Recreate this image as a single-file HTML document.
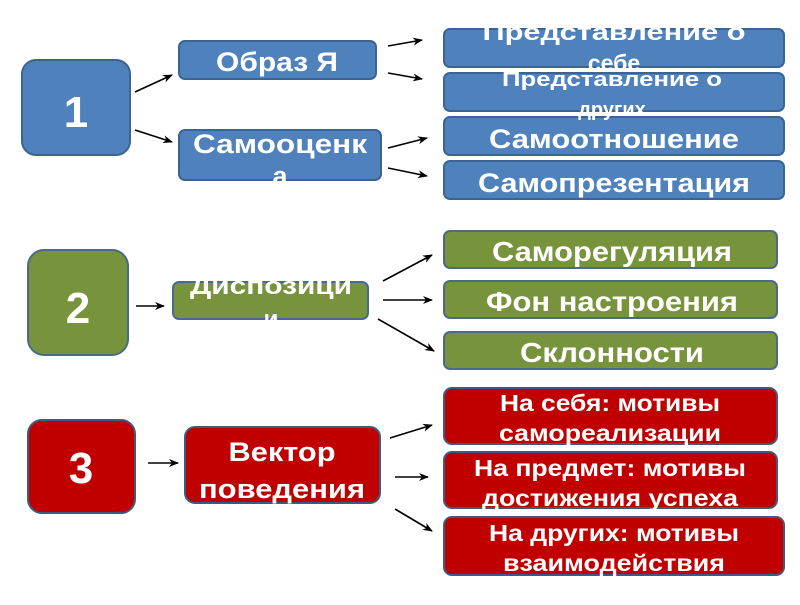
<!DOCTYPE html>
<html><head><meta charset="utf-8"><style>
html,body{margin:0;padding:0;background:#fff;}
svg text{font-family:"Liberation Sans","DejaVu Sans",sans-serif;font-weight:bold;fill:#fff;text-anchor:middle;}
</style></head><body>
<svg width="800" height="600" viewBox="0 0 800 600" xmlns="http://www.w3.org/2000/svg">
<defs>
<marker id="a" markerWidth="10" markerHeight="8" refX="9" refY="4" orient="auto" markerUnits="userSpaceOnUse"><path d="M0,0 L10,4 L0,8 L3,4 z" fill="#000"/></marker>
</defs>
<g stroke="#000" stroke-width="1.6" marker-end="url(#a)">
<line x1="135" y1="92" x2="172" y2="75"/>
<line x1="135" y1="130" x2="172" y2="142"/>
<line x1="388" y1="46" x2="422" y2="40"/>
<line x1="388" y1="73" x2="422" y2="79"/>
<line x1="388" y1="148" x2="427" y2="138"/>
<line x1="388" y1="168" x2="427" y2="176"/>
<line x1="136" y1="306" x2="164" y2="306"/>
<line x1="383" y1="281" x2="432" y2="255"/>
<line x1="383" y1="300" x2="432" y2="300"/>
<line x1="378" y1="319" x2="434" y2="351"/>
<line x1="148" y1="463" x2="178" y2="463"/>
<line x1="390" y1="438" x2="432" y2="425"/>
<line x1="395" y1="477" x2="428" y2="477"/>
<line x1="395" y1="509" x2="432" y2="531"/>
</g>
<g fill="#4f81bd" stroke="#3a6494" stroke-width="2">
<rect x="22" y="60" width="108" height="95" rx="14"/>
<rect x="179" y="41" width="197" height="38" rx="6"/>
<rect x="179" y="130" width="202" height="50" rx="6"/>
<rect x="444" y="29" width="340" height="38" rx="6"/>
<rect x="444" y="73" width="340" height="38" rx="6"/>
<rect x="444" y="117" width="340" height="38" rx="6"/>
<rect x="444" y="161" width="340" height="38" rx="6"/>
</g>
<g fill="#77933c" stroke="#4a6a8a" stroke-width="2">
<rect x="28" y="250" width="100" height="105" rx="16"/>
<rect x="173" y="282" width="195" height="37" rx="6"/>
<rect x="444" y="231" width="333" height="37" rx="6"/>
<rect x="444" y="281" width="333" height="37" rx="6"/>
<rect x="444" y="332" width="333" height="37" rx="6"/>
</g>
<g fill="#c00000" stroke="#3f5a7a" stroke-width="2">
<rect x="28" y="420" width="107" height="93" rx="14"/>
<rect x="185" y="427" width="195" height="76" rx="10"/>
<rect x="444" y="388" width="333" height="56" rx="8"/>
<rect x="444" y="452" width="333" height="56" rx="8"/>
<rect x="444" y="517" width="340" height="58" rx="8"/>
</g>
<text x="76" y="127" font-size="44">1</text>
<text x="277" y="71" font-size="27" textLength="122" lengthAdjust="spacingAndGlyphs">Образ Я</text>
<text x="280" y="153" font-size="27" textLength="174" lengthAdjust="spacingAndGlyphs">Самооценк</text>
<text x="280" y="185" font-size="27">а</text>
<text x="614" y="40" font-size="23" textLength="263" lengthAdjust="spacingAndGlyphs">Представление о</text>
<text x="614" y="71" font-size="23">себе</text>
<text x="612" y="86" font-size="20" textLength="220" lengthAdjust="spacingAndGlyphs">Представление о</text>
<text x="612" y="116" font-size="20">других</text>
<text x="614" y="148" font-size="27" textLength="250" lengthAdjust="spacingAndGlyphs">Самоотношение</text>
<text x="614" y="192" font-size="27" textLength="272" lengthAdjust="spacingAndGlyphs">Самопрезентация</text>
<text x="78" y="323" font-size="44">2</text>
<text x="271" y="294" font-size="24" textLength="162" lengthAdjust="spacingAndGlyphs">Диспозици</text>
<text x="271" y="327" font-size="24">и</text>
<text x="612" y="261" font-size="28" textLength="240" lengthAdjust="spacingAndGlyphs">Саморегуляция</text>
<text x="612" y="311" font-size="28" textLength="252" lengthAdjust="spacingAndGlyphs">Фон настроения</text>
<text x="612" y="362" font-size="28" textLength="184" lengthAdjust="spacingAndGlyphs">Склонности</text>
<text x="81" y="483" font-size="44">3</text>
<text x="282" y="461" font-size="27" textLength="107" lengthAdjust="spacingAndGlyphs">Вектор</text>
<text x="282" y="498" font-size="27" textLength="166" lengthAdjust="spacingAndGlyphs">поведения</text>
<text x="610" y="411" font-size="23" textLength="220" lengthAdjust="spacingAndGlyphs">На себя: мотивы</text>
<text x="610" y="441" font-size="23" textLength="222" lengthAdjust="spacingAndGlyphs">самореализации</text>
<text x="610" y="476" font-size="23" textLength="272" lengthAdjust="spacingAndGlyphs">На предмет: мотивы</text>
<text x="610" y="506" font-size="23" textLength="256" lengthAdjust="spacingAndGlyphs">достижения успеха</text>
<text x="614" y="541" font-size="23" textLength="250" lengthAdjust="spacingAndGlyphs">На других: мотивы</text>
<text x="614" y="571" font-size="23" textLength="222" lengthAdjust="spacingAndGlyphs">взаимодействия</text>
</svg>
</body></html>
